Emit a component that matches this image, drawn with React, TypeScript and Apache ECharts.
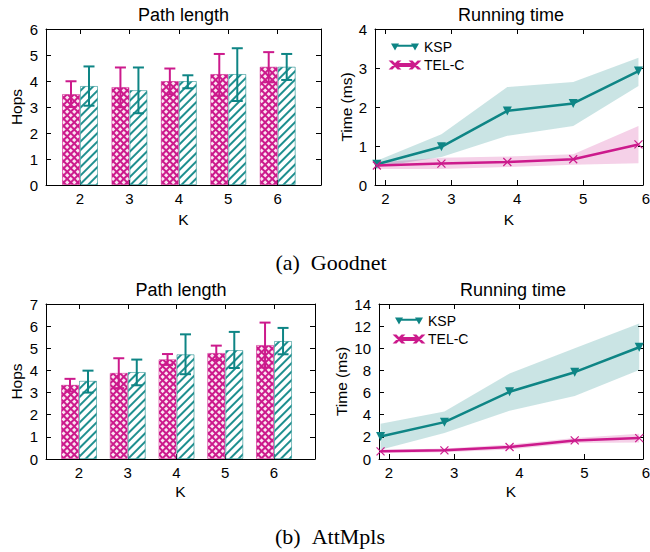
import React, { useEffect, useRef } from "react";
import * as echarts from "echarts";

// ---------- data ----------
const K = [2, 3, 4, 5, 6];
const barTicks = [2, 3, 4, 5, 6];
const lineTicks = [2, 3, 4, 5];
const lineEdgeTick = 6;
const lineX = [1.87, 2.85, 3.85, 4.85, 5.84];

// (a) Goodnet – path length (hops)
const gTelcHops = [3.5, 3.77, 4.0, 4.27, 4.55];
const gTelcHopsLo = [3.0, 2.99, 3.49, 3.44, 3.95];
const gTelcHopsHi = [3.99, 4.52, 4.48, 5.04, 5.11];
const gKspHops = [3.81, 3.65, 4.0, 4.27, 4.55];
const gKspHopsLo = [3.05, 2.76, 3.72, 3.23, 4.04];
const gKspHopsHi = [4.56, 4.52, 4.22, 5.26, 5.04];

// (a) Goodnet – running time (ms)
const gKspTime = [0.53, 0.98, 1.9, 2.09, 2.92];
const gKspTimeLo = [0.46, 0.72, 1.26, 1.51, 2.54];
const gKspTimeHi = [0.62, 1.3, 2.51, 2.64, 3.26];
const gTelcTime = [0.5, 0.55, 0.59, 0.66, 1.04];
const gTelcTimeLo = [0.41, 0.41, 0.46, 0.52, 0.56];
const gTelcTimeHi = [0.58, 0.7, 0.73, 0.79, 1.51];

// (b) AttMpls – path length (hops)
const aTelcHops = [3.35, 3.89, 4.5, 4.79, 5.15];
const aTelcHopsLo = [3.05, 3.2, 4.25, 4.47, 4.13];
const aTelcHopsHi = [3.62, 4.55, 4.74, 5.12, 6.16];
const aKspHops = [3.53, 3.93, 4.73, 4.92, 5.33];
const aKspHopsLo = [3.0, 3.33, 3.83, 4.11, 4.73];
const aKspHopsHi = [3.99, 4.49, 5.63, 5.74, 5.92];

// (b) AttMpls – running time (ms)
const aKspTime = [2.04, 3.33, 6.07, 7.84, 10.09];
const aKspTimeLo = [0.84, 2.34, 4.35, 5.7, 8.05];
const aKspTimeHi = [3.18, 4.29, 7.72, 10.0, 12.25];
const aTelcTime = [0.69, 0.78, 1.08, 1.68, 1.89];
const aTelcTimeLo = [0.55, 0.62, 0.85, 1.45, 1.5];
const aTelcTimeHi = [0.82, 0.95, 1.3, 1.9, 2.28];

// ---------- styling ----------
const MAGENTA = "#cc1a8c";
const TEAL = "#0e8585";
const FONT = '"Liberation Sans", Arial, Helvetica, sans-serif';
const SERIF = '"Liberation Serif", "Times New Roman", serif';

const KSP_ICON =
  "path://M0,0L8,0L4,7ZM2,1.3L26,1.3L26,3.3L2,3.3ZM20,0L28,0L24,7Z";
const TELC_ICON =
  "path://M0,0L1,0L8,7L7,7ZM7,0L8,0L1,7L0,7ZM4,2.5L24,2.5L24,4.5L4,4.5ZM20,0L21,0L28,7L27,7ZM27,0L28,0L21,7L20,7Z";
const X_SYMBOL = "path://M0,0L8,8M8,0L0,8";

const axisBase = {
  type: "value",
  axisLine: { show: true, onZero: false, lineStyle: { color: "#000", width: 1 } },
  splitLine: { show: false },
};
const nameStyle = { color: "#000", fontSize: 15.5, fontFamily: FONT };
const labelStyle = { color: "#000", fontSize: 15, fontFamily: FONT };

function makeXAxes(gridIndex: number, min: number, max: number, ticks: number[], nameGap: number) {
  const tick = { show: true, inside: true, length: 5, customValues: ticks, lineStyle: { color: "#000", width: 1 } };
  return [
    {
      ...axisBase, gridIndex, min, max, position: "bottom", axisTick: tick,
      axisLabel: { ...labelStyle, customValues: ticks, margin: 6 },
      name: "K", nameLocation: "middle", nameGap, nameTextStyle: nameStyle,
    },
    { ...axisBase, gridIndex, min, max, position: "top", axisTick: tick, axisLabel: { show: false } },
  ];
}

function makeYAxes(gridIndex: number, max: number, interval: number, name: string, nameGap: number) {
  const tick = { show: true, inside: true, length: 5, lineStyle: { color: "#000", width: 1 } };
  return [
    {
      ...axisBase, gridIndex, min: 0, max, interval, position: "left", axisTick: tick,
      axisLabel: { ...labelStyle, margin: 8 },
      name, nameLocation: "middle", nameGap, nameRotate: 90, nameTextStyle: nameStyle,
    },
    { ...axisBase, gridIndex, min: 0, max, interval, position: "right", axisTick: tick, axisLabel: { show: false } },
  ];
}

const telcDecal = {
  symbol: "rect", symbolSize: 1, color: "#fbe6f1",
  dashArrayX: [2.5, 1.6], dashArrayY: [2.5, 1.6], rotation: Math.PI / 4,
};
const kspDecal = {
  symbol: "rect", symbolSize: 1, color: "#1f8f8f",
  dashArrayX: [1, 0], dashArrayY: [1.1, 3.3], rotation: -Math.PI / 4,
};

function barSeries(axis: number, name: string, vals: number[], isTelc: boolean) {
  return {
    type: "bar", name, xAxisIndex: axis, yAxisIndex: axis,
    data: K.map((k, i) => [k, vals[i]]),
    barWidth: 18, barGap: "0%",
    itemStyle: isTelc
      ? { color: MAGENTA, borderColor: "rgba(204,26,140,0.3)", borderWidth: 1, decal: telcDecal }
      : { color: "#ffffff", borderColor: "rgba(14,133,133,0.3)", borderWidth: 1, decal: kspDecal },
    z: 2,
  };
}

function errSeries(axis: number, name: string, lo: number[], hi: number[], color: string, offset: number) {
  return {
    type: "custom", name, xAxisIndex: axis, yAxisIndex: axis,
    data: K.map((k, i) => [k, lo[i], hi[i]]),
    encode: { x: 0, y: [1, 2] },
    z: 4,
    renderItem: (_p: any, api: any) => {
      const x = api.value(0);
      const a = api.coord([x, api.value(1)]);
      const b = api.coord([x, api.value(2)]);
      const cx = a[0] + offset;
      const style = { stroke: color, lineWidth: 2, fill: "none" };
      return {
        type: "group",
        children: [
          { type: "line", shape: { x1: cx, y1: a[1], x2: cx, y2: b[1] }, style },
          { type: "line", shape: { x1: cx - 5.5, y1: b[1], x2: cx + 5.5, y2: b[1] }, style },
          { type: "line", shape: { x1: cx - 5.5, y1: a[1], x2: cx + 5.5, y2: a[1] }, style },
        ],
      };
    },
  };
}

// shaded min–max band drawn as one polygon through the axis scales
function bandSeries(axis: number, name: string, lo: number[], hi: number[], fill: string) {
  return {
    type: "custom", name, xAxisIndex: axis, yAxisIndex: axis, silent: true,
    data: lineX.map((x, i) => [x, lo[i], hi[i]]),
    encode: { x: 0, y: [1, 2] },
    z: 1,
    renderItem: (params: any, api: any) => {
      if (params.dataIndexInside !== 0) return null;
      const n = params.dataInsideLength;
      const upper: number[][] = [];
      const lower: number[][] = [];
      for (let i = 0; i < n; i++) {
        const x = api.value(0, i);
        upper.push(api.coord([x, api.value(2, i)]));
        lower.push(api.coord([x, api.value(1, i)]));
      }
      return {
        type: "polygon",
        shape: { points: upper.concat(lower.reverse()) },
        style: { fill },
      };
    },
  };
}

function lineSeries(axis: number, name: string, vals: number[], isTelc: boolean) {
  const color = isTelc ? MAGENTA : TEAL;
  return {
    type: "line", name, xAxisIndex: axis, yAxisIndex: axis,
    data: lineX.map((x, i) => [x, vals[i]]),
    lineStyle: { color, width: 2.5 },
    symbol: isTelc ? X_SYMBOL : "triangle",
    symbolRotate: isTelc ? 0 : 180,
    symbolSize: isTelc ? 8 : 9,
    itemStyle: isTelc
      ? { color, borderColor: color, borderWidth: 1.2 }
      : { color, borderWidth: 0 },
    z: 5,
  };
}

function legendAt(left: number, top: number) {
  return {
    left, top, orient: "vertical", padding: 0, itemGap: 4,
    itemWidth: 28, itemHeight: 7, selectedMode: false,
    textStyle: { color: "#000", fontSize: 14, fontFamily: FONT },
    data: [
      { name: "KSP", icon: KSP_ICON },
      { name: "TEL-C", icon: TELC_ICON },
    ],
  };
}

const TEAL_BAND = "rgba(14,133,133,0.22)";
const MAG_BAND = "rgba(204,26,140,0.2)";

export default function App() {
  const ref = useRef<HTMLDivElement>(null);
  useEffect(() => {
    if (!ref.current) return;
    const chart = echarts.init(ref.current, null, { renderer: "svg" });
    const titleStyle = { fontSize: 18, fontWeight: "normal", color: "#000", fontFamily: FONT };
    const option: any = {
      animation: false,
      textStyle: { fontFamily: FONT },
      title: [
        { text: "Path length", left: 183.5, top: 6, textAlign: "center", padding: 0, textStyle: titleStyle },
        { text: "Running time", left: 511, top: 6, textAlign: "center", padding: 0, textStyle: titleStyle },
        { text: "Path length", left: 181, top: 281, textAlign: "center", padding: 0, textStyle: titleStyle },
        { text: "Running time", left: 513, top: 281, textAlign: "center", padding: 0, textStyle: titleStyle },
      ],
      grid: [
        { left: 46, top: 29, width: 275, height: 156 },
        { left: 375, top: 29, width: 268, height: 156 },
        { left: 46, top: 304, width: 269, height: 155 },
        { left: 379, top: 304, width: 264, height: 155 },
      ],
      xAxis: [
        ...makeXAxes(0, 1.312, 6.876, barTicks, 26),
        ...makeXAxes(1, 1.842, 5.909, lineTicks, 26),
        ...makeXAxes(2, 1.323, 6.84, barTicks, 24),
        ...makeXAxes(3, 1.846, 5.898, lineTicks, 24),
      ],
      yAxis: [
        ...makeYAxes(0, 6, 1, "Hops", 21.5),
        ...makeYAxes(1, 4, 1, "Time (ms)", 21),
        ...makeYAxes(2, 7, 1, "Hops", 22),
        ...makeYAxes(3, 14, 2, "Time (ms)", 30),
      ],
      legend: [legendAt(390, 40), legendAt(394, 314)],
      series: [
        // (a) path length
        barSeries(0, "TEL-C hops (a)", gTelcHops, true),
        barSeries(0, "KSP hops (a)", gKspHops, false),
        errSeries(0, "TEL-C err (a)", gTelcHopsLo, gTelcHopsHi, MAGENTA, -9),
        errSeries(0, "KSP err (a)", gKspHopsLo, gKspHopsHi, TEAL, 9),
        // (a) running time
        bandSeries(2, "KSP band (a)", gKspTimeLo, gKspTimeHi, TEAL_BAND),
        bandSeries(2, "TEL-C band (a)", gTelcTimeLo, gTelcTimeHi, MAG_BAND),
        lineSeries(2, "KSP", gKspTime, false),
        lineSeries(2, "TEL-C", gTelcTime, true),
        // (b) path length
        barSeries(4, "TEL-C hops (b)", aTelcHops, true),
        barSeries(4, "KSP hops (b)", aKspHops, false),
        errSeries(4, "TEL-C err (b)", aTelcHopsLo, aTelcHopsHi, MAGENTA, -9),
        errSeries(4, "KSP err (b)", aKspHopsLo, aKspHopsHi, TEAL, 9),
        // (b) running time
        bandSeries(6, "KSP band (b)", aKspTimeLo, aKspTimeHi, TEAL_BAND),
        bandSeries(6, "TEL-C band (b)", aTelcTimeLo, aTelcTimeHi, MAG_BAND),
        lineSeries(6, "KSP", aKspTime, false),
        lineSeries(6, "TEL-C", aTelcTime, true),
      ],
      graphic: [
        { id: "capA", type: "text", x: 331, y: 262, style: { text: "(a)\u2002Goodnet", align: "center", verticalAlign: "middle", fontSize: 22, fontFamily: SERIF, fill: "#000" } },
        { id: "capB", type: "text", x: 330, y: 536, style: { text: "(b)\u2002AttMpls", align: "center", verticalAlign: "middle", fontSize: 22, fontFamily: SERIF, fill: "#000" } },
      ],
    };
    chart.setOption(option);

    // edge tick label "6" of the running-time plots (just beyond the plotted range)
    const edge = [2, 6].map((ax, i) => {
      const px = chart.convertToPixel({ xAxisIndex: ax }, lineEdgeTick) as number;
      const py = chart.convertToPixel({ yAxisIndex: ax }, 0) as number;
      return {
        id: "edge" + i, type: "text", x: Math.min(px + 4, 650), y: py + 6,
        style: { text: String(lineEdgeTick), align: "right", verticalAlign: "top", fontSize: 15, fontFamily: FONT, fill: "#000" },
      };
    });
    chart.setOption({ graphic: edge });

    return () => chart.dispose();
  }, []);
  return (
    <div
      ref={ref}
      style={{ position: "absolute", left: 0, top: 0, width: 650, height: 552 }}
    />
  );
}
